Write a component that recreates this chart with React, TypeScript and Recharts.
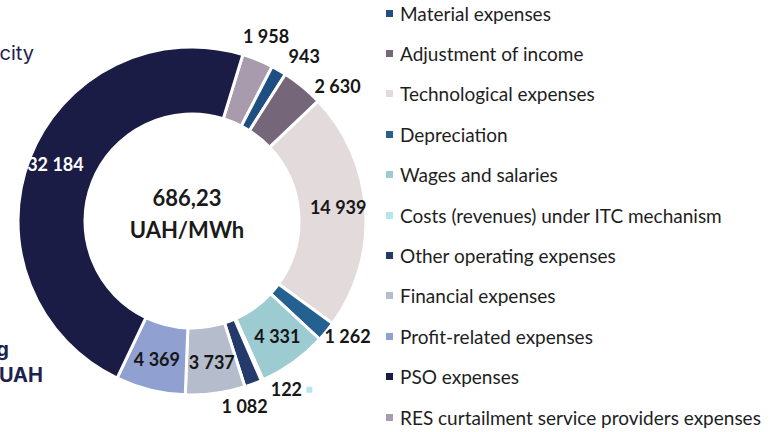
import { PieChart, Pie, Cell, Legend } from 'recharts'

// slices in drawing order, clockwise from just right of 12 o'clock
const names = [
  'RES curtailment service providers expenses',
  'Material expenses',
  'Adjustment of income',
  'Technological expenses',
  'Depreciation',
  'Wages and salaries',
  'Costs (revenues) under ITC mechanism',
  'Other operating expenses',
  'Financial expenses',
  'Profit-related expenses',
  'PSO expenses',
]
const values = [1958, 943, 2630, 14939, 1262, 4331, 122, 1082, 3737, 4369, 32184]
const colors = [
  '#a79bad', '#1f4f82', '#76667a', '#e3dbdb', '#256190', '#9ccbd1',
  '#b5e6f0', '#243a6b', '#b5bccb', '#8fa0d1', '#1b1c45',
]
const legendOrder = [
  'Material expenses',
  'Adjustment of income',
  'Technological expenses',
  'Depreciation',
  'Wages and salaries',
  'Costs (revenues) under ITC mechanism',
  'Other operating expenses',
  'Financial expenses',
  'Profit-related expenses',
  'PSO expenses',
  'RES curtailment service providers expenses',
]
const centerLines = ['686,23', 'UAH/MWh']

const data = names.map((name, i) => ({ name, value: values[i], color: colors[i] }))

// small angular nudges (deg, clockwise) for labels sitting outside the ring
const labelNudge: Record<string, number> = {
  'Material expenses': 5,
  'Adjustment of income': 8.5,
  Depreciation: -2,
  'Costs (revenues) under ITC mechanism': -5,
  'Other operating expenses': 5,
}
const keyInLabel = ['Costs (revenues) under ITC mechanism']

const RAD = Math.PI / 180
const fmt = (v: number) => String(v).replace(/\B(?=(\d{3})+(?!\d))/g, ' ')

const renderLabel = (props: any) => {
  const { cx, cy, midAngle, innerRadius, outerRadius, value, payload } = props
  const name = payload?.name ?? props.name
  const inside = value > 3000
  const r = inside ? (innerRadius + outerRadius) / 2 + 6 : outerRadius + 22
  const ang = midAngle - (inside ? 0 : labelNudge[name] || 0)
  const x = cx + r * Math.cos(-ang * RAD)
  const y = cy + r * Math.sin(-ang * RAD) - 4
  const fill = name === 'PSO expenses' ? '#ffffff' : '#161616'
  return (
    <g>
      <text x={x} y={y} textAnchor="middle" dominantBaseline="central" fontFamily="Lato" fontWeight={700} fontSize={18} fill={fill}>
        {fmt(value)}
      </text>
      {keyInLabel.includes(name) && (
        <rect x={x + 20} y={y - 2} width={6} height={6} fill={payload?.color ?? '#b5e6f0'} />
      )}
    </g>
  )
}

const renderLegend = () => (
  <div style={{ fontFamily: 'Lato', fontSize: 19, color: '#1e1e1e', lineHeight: 1 }}>
    {legendOrder.map((n) => (
      <div key={n} style={{ height: 40.4, display: 'flex', alignItems: 'center' }}>
        <span style={{ width: 7, height: 7, background: colors[names.indexOf(n)], marginRight: 7, display: 'inline-block', flex: 'none' }} />
        <span style={{ whiteSpace: 'nowrap' }}>{n}</span>
      </div>
    ))}
  </div>
)

export default function App() {
  return (
    <div style={{ position: 'relative', width: 783, height: 432, background: '#fff', overflow: 'hidden' }}>
      <style>{'html,body{margin:0;padding:0}'}</style>
      <PieChart width={783} height={432}>
        <Pie
          data={data}
          dataKey="value"
          nameKey="name"
          cx={187}
          cy={216}
          innerRadius={107}
          outerRadius={174}
          startAngle={73}
          endAngle={-287}
          stroke="#ffffff"
          strokeWidth={3}
          label={renderLabel}
          labelLine={false}
          isAnimationActive={false}
        >
          {data.map((d) => (
            <Cell key={d.name} fill={d.color} />
          ))}
        </Pie>
        <Legend content={renderLegend} layout="vertical" wrapperStyle={{ left: 386, top: -7, width: 397, height: 440 }} />
      </PieChart>
      <svg width={783} height={432} style={{ position: 'absolute', left: 0, top: 0, pointerEvents: 'none' }}>
        <g fontFamily="Lato" fontWeight={700} fontSize={22} fill="#1a1a1a" textAnchor="middle">
          <text x={187} y={197} dominantBaseline="central">{centerLines[0]}</text>
          <text x={187} y={229} dominantBaseline="central">{centerLines[1]}</text>
        </g>
        <text x={34} y={60} textAnchor="end" fontFamily="Inter" fontSize={20} fill="#1e2250">electricity</text>
        <text x={9} y={356} textAnchor="end" fontFamily="Inter" fontWeight={700} fontSize={20} fill="#1e2250">amounting</text>
        <text x={43} y={382} textAnchor="end" fontFamily="Inter" fontWeight={700} fontSize={20} fill="#1e2250">mln UAH</text>
      </svg>
    </div>
  )
}
